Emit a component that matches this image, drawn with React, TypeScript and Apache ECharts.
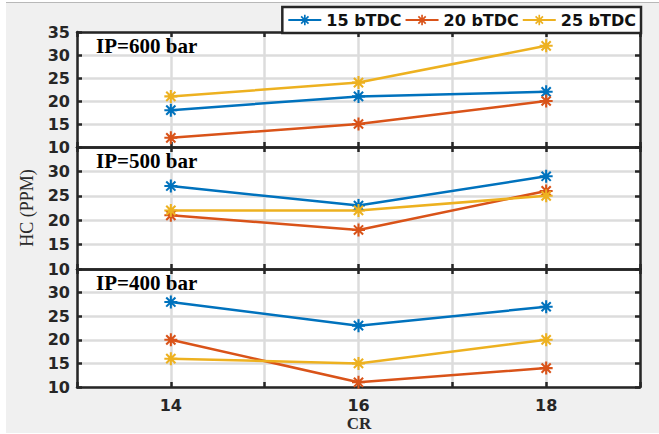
import React, { useEffect, useRef } from "react";
import * as echarts from "echarts";

// Compression ratio positions
const CR_VALUES = [14, 16, 18];
const SERIES_NAMES = ["15 bTDC", "20 bTDC", "25 bTDC"];
const SERIES_COLORS = ["#0072BD", "#D95319", "#EDB120"];
const PANEL_TITLES = ["IP=600 bar", "IP=500 bar", "IP=400 bar"];

// HC (PPM) at injection pressure 600 bar
const IP600_15 = [18, 21, 22];
const IP600_20 = [12, 15, 20];
const IP600_25 = [21, 24, 32];
// HC (PPM) at injection pressure 500 bar
const IP500_15 = [27, 23, 29];
const IP500_20 = [21, 18, 26];
const IP500_25 = [22, 22, 25];
// HC (PPM) at injection pressure 400 bar
const IP400_15 = [28, 23, 27];
const IP400_20 = [20, 11, 14];
const IP400_25 = [16, 15, 20];

const PANELS = [
  [IP600_15, IP600_20, IP600_25],
  [IP500_15, IP500_20, IP500_25],
  [IP400_15, IP400_20, IP400_25],
];

// Panel boxes (top, height) in pixels
const PANEL_BOXES = [
  { top: 32, height: 115 },
  { top: 147, height: 122 },
  { top: 269, height: 118 },
];
const PLOT_LEFT = 77;
const PLOT_RIGHT = 19;

const AXIS_COLOR = "#262626";
const GRID_COLOR = "#dcdcdc";
const SANS = "DejaVu Sans";
const SERIF = "Liberation Serif";

// Eight-spoke asterisk marker
function asteriskPath(): string {
  const hw = 0.16;
  let d = "";
  for (const deg of [0, 45, 90, 135]) {
    const a = (deg * Math.PI) / 180;
    const ux = Math.cos(a);
    const uy = Math.sin(a);
    const px = -uy * hw;
    const py = ux * hw;
    const pts = [
      [-ux + px, -uy + py],
      [ux + px, uy + py],
      [ux - px, uy - py],
      [-ux - px, -uy - py],
    ];
    d += "M" + pts.map((p) => p[0].toFixed(3) + " " + p[1].toFixed(3)).join("L") + "Z";
  }
  return "path://" + d;
}

export default function App() {
  const ref = useRef<HTMLDivElement>(null);

  useEffect(() => {
    if (!ref.current) return;
    const chart = echarts.init(ref.current, undefined, { renderer: "svg" });
    const marker = asteriskPath();

    const grids: any[] = [];
    const xAxes: any[] = [];
    const yAxes: any[] = [];
    const series: any[] = [];
    const graphics: any[] = [];

    PANEL_BOXES.forEach((box, i) => {
      grids.push({
        left: PLOT_LEFT,
        right: PLOT_RIGHT,
        top: box.top,
        height: box.height,
        show: true,
        backgroundColor: "#ffffff",
        borderWidth: 0,
      });
      const isLast = i === PANEL_BOXES.length - 1;
      const xCommon = {
        type: "value",
        gridIndex: i,
        min: 13,
        max: 19,
        interval: 1,
        axisLine: { show: true, onZero: false, lineStyle: { color: AXIS_COLOR, width: 2.5 } },
        axisTick: { show: true, inside: true, length: 5, lineStyle: { color: AXIS_COLOR, width: 2.5 } },
      };
      xAxes.push({
        ...xCommon,
        position: "bottom",
        axisLabel: {
          show: isLast,
          margin: 10,
          color: AXIS_COLOR,
          fontFamily: SANS,
          fontWeight: "bold",
          fontSize: 16,
          formatter: (v: number) => (v % 2 === 0 ? String(v) : ""),
        },
        splitLine: { show: true, lineStyle: { color: GRID_COLOR, width: 2.5 } },
      });
      xAxes.push({
        ...xCommon,
        position: "top",
        axisLabel: { show: false },
        splitLine: { show: false },
      });
      const yCommon = {
        type: "value",
        gridIndex: i,
        min: 10,
        max: 35,
        interval: 5,
        axisLine: { show: true, onZero: false, lineStyle: { color: AXIS_COLOR, width: 2.5 } },
        axisTick: { show: true, inside: true, length: 5, lineStyle: { color: AXIS_COLOR, width: 2.5 } },
      };
      yAxes.push({
        ...yCommon,
        position: "left",
        axisLabel: {
          show: true,
          margin: 7,
          color: AXIS_COLOR,
          fontFamily: SANS,
          fontWeight: "bold",
          fontSize: 16,
          showMaxLabel: i === 0,
        },
        splitLine: { show: true, lineStyle: { color: GRID_COLOR, width: 2.5 } },
      });
      yAxes.push({
        ...yCommon,
        position: "right",
        axisLabel: { show: false },
        splitLine: { show: false },
      });

      PANELS[i].forEach((values, s) => {
        series.push({
          type: "line",
          name: SERIES_NAMES[s],
          xAxisIndex: 2 * i,
          yAxisIndex: 2 * i,
          data: CR_VALUES.map((cr, k) => [cr, values[k]]),
          symbol: marker,
          symbolSize: 13,
          showAllSymbol: true,
          lineStyle: { color: SERIES_COLORS[s], width: 2.5 },
          itemStyle: { color: SERIES_COLORS[s] },
          z: 3,
        });
      });

      graphics.push({
        type: "text",
        left: 96,
        top: box.top + 3,
        z: 10,
        style: {
          text: PANEL_TITLES[i],
          fill: "#000",
          font: `bold 21px "${SERIF}"`,
        },
      });
    });

    graphics.push({
      type: "text",
      x: 27,
      y: 208,
      rotation: Math.PI / 2,
      style: {
        text: "HC (PPM)",
        fill: "#2a2a2a",
        font: `18px "${SERIF}"`,
        align: "center",
        verticalAlign: "middle",
      },
    });
    graphics.push({
      type: "text",
      x: 359,
      y: 423,
      style: {
        text: "CR",
        fill: "#2a2a2a",
        font: `bold 17px "${SERIF}"`,
        align: "center",
        verticalAlign: "middle",
      },
    });

    chart.setOption({
      animation: false,
      backgroundColor: "transparent",
      color: SERIES_COLORS,
      grid: grids,
      xAxis: xAxes,
      yAxis: yAxes,
      series,
      graphic: graphics,
      legend: {
        data: SERIES_NAMES,
        right: 18,
        top: 7,
        orient: "horizontal",
        backgroundColor: "#ffffff",
        borderColor: AXIS_COLOR,
        borderWidth: 2.5,
        borderRadius: 0,
        padding: [5, 5, 5, 5],
        itemGap: 3,
        itemWidth: 33,
        itemHeight: 13,
        textStyle: {
          fontFamily: SANS,
          fontWeight: "bold",
          fontSize: 16,
          color: "#111",
        },
        z: 20,
      },
    });

    return () => chart.dispose();
  }, []);

  return (
    <div style={{ position: "fixed", left: 0, top: 0, width: 659, height: 434, background: "#ffffff" }}>
      <div
        style={{
          position: "absolute",
          left: 6,
          top: 2,
          right: 0,
          bottom: 1,
          background: "#f0f0f0",
          borderTop: "1.5px solid #b8b8b8",
        }}
      />
      <div ref={ref} style={{ position: "absolute", left: 0, top: 0, width: 659, height: 434 }} />
    </div>
  );
}
